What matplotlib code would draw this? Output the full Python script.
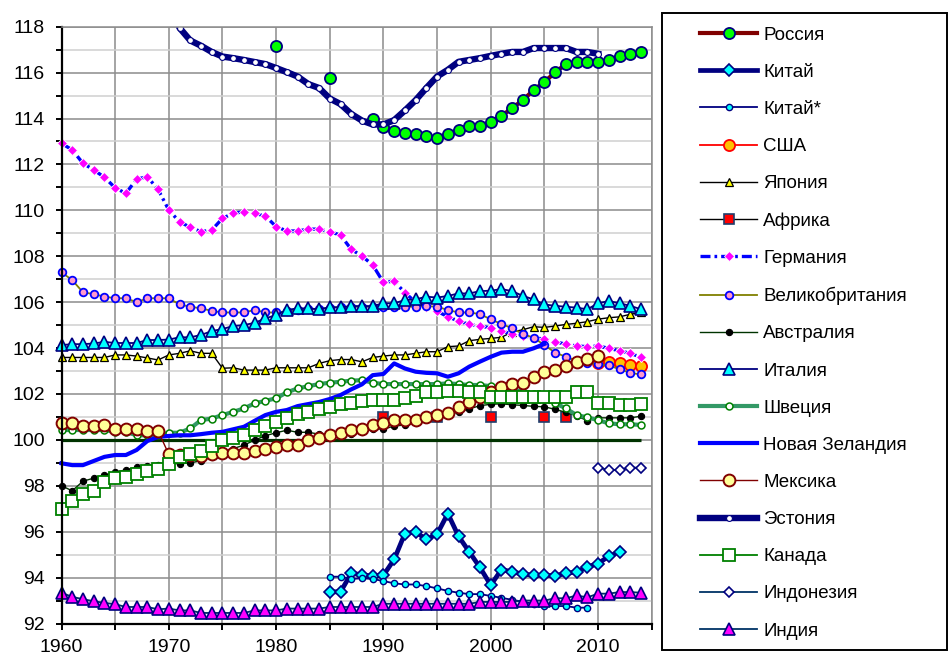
import matplotlib
matplotlib.use('Agg')
import matplotlib.pyplot as plt
import numpy as np
import pandas as pd
from matplotlib.patches import Rectangle
from matplotlib.ticker import MultipleLocator

plt.rcParams['font.family'] = ['Liberation Sans', 'DejaVu Sans']

# ---------------- data ----------------
russia_years = [1980, 1985] + list(range(1989, 2015))
russia = [117.16, 115.75,
          114.0, 113.64, 113.47, 113.38, 113.31, 113.24, 113.15, 113.31, 113.5, 113.67,
          113.67, 113.83, 114.11, 114.46, 114.8, 115.24, 115.59, 116.01, 116.37, 116.46,
          116.46, 116.46, 116.54, 116.72, 116.81, 116.9]

china_start = 1985
china = [93.38, 93.38, 94.18, 94.13, 94.06, 94.1, 94.79, 95.92, 95.99, 95.66,
         95.89, 96.79, 95.8, 95.12, 94.44, 93.67, 94.35, 94.25, 94.15, 94.1,
         94.1, 94.08, 94.18, 94.25, 94.47, 94.61, 94.93, 95.12]

china2_start = 1985
china2 = [94.04, 94.04, 93.94, 93.97, 93.94, 93.85, 93.75, 93.7, 93.7, 93.63,
          93.53, 93.42, 93.34, 93.28, 93.28, 93.2, 93.12, 93.03, 92.95, 92.85,
          92.76, 92.76, 92.76, 92.69, 92.69]

usa_start = 2010
usa = [103.35, 103.4, 103.33, 103.28, 103.2]

japan_start = 1960
japan = [103.59, 103.59, 103.59, 103.59, 103.59, 103.7, 103.7, 103.65, 103.57, 103.48,
         103.7, 103.77, 103.88, 103.77, 103.77, 103.12, 103.14, 103.04, 103.04, 103.04,
         103.14, 103.14, 103.14, 103.14, 103.33, 103.45, 103.5, 103.5, 103.4, 103.59,
         103.65, 103.7, 103.7, 103.77, 103.84, 103.84, 104.06, 104.09, 104.32, 104.38,
         104.42, 104.47, 104.7, 104.8, 104.93, 104.9, 104.96, 105.03, 105.08, 105.15,
         105.26, 105.32, 105.36, 105.47, 105.55]

africa_years = [1990, 1995, 2000, 2005, 2007]
africa = [101.0, 101.0, 101.0, 101.0, 101.0]

germany_start = 1960
germany = [112.92, 112.63, 112.05, 111.76, 111.44, 110.98, 110.74, 111.36, 111.46, 110.91,
           110.01, 109.5, 109.26, 109.07, 109.14, 109.65, 109.87, 109.94, 109.87, 109.75,
           109.29, 109.1, 109.1, 109.18, 109.18, 109.07, 108.92, 108.3, 108.01, 107.62,
           106.86, 106.92, 106.41, 106.0, 105.77, 105.61, 105.36, 105.18, 105.03, 104.96,
           104.88, 104.74, 104.61, 104.54, 104.45, 104.39, 104.27, 104.17, 104.09, 104.06,
           104.09, 103.99, 103.88, 103.77, 103.6]

uk_start = 1960
uk = [107.3, 106.96, 106.43, 106.35, 106.24, 106.17, 106.17, 106.0, 106.17, 106.17,
      106.17, 105.9, 105.8, 105.73, 105.62, 105.55, 105.55, 105.55, 105.66, 105.55,
      105.55, 105.6, 105.65, 105.7, 105.7, 105.75, 105.8, 105.8, 105.8, 105.8,
      105.8, 105.8, 105.8, 105.8, 105.83, 105.8, 105.66, 105.55, 105.55, 105.48,
      105.25, 105.05, 104.86, 104.61, 104.45, 104.13, 103.8, 103.62, 103.45, 103.33,
      103.3, 103.24, 103.08, 102.92, 102.85]

australia_start = 1960
australia = [98.0, 97.78, 98.2, 98.33, 98.47, 98.58, 98.7, 98.8, 98.85, 98.9,
             98.95, 98.97, 98.99, 99.1, 99.25, 99.45, 99.62, 99.77, 99.99, 100.18,
             100.31, 100.42, 100.33, 100.33, 100.25, 100.2, 100.2, 100.25, 100.35, 100.48,
             100.47, 100.6, 100.65, 100.75, 100.9, 100.98, 101.1, 101.2, 101.35, 101.49,
             101.55, 101.57, 101.53, 101.5, 101.46, 101.44, 101.33, 101.2, 101.04, 100.84,
             100.96, 100.96, 100.96, 100.96, 101.03]

italy_start = 1960
italy = [104.13, 104.17, 104.17, 104.2, 104.27, 104.22, 104.22, 104.22, 104.35, 104.35,
         104.37, 104.47, 104.47, 104.57, 104.74, 104.83, 104.96, 105.0, 105.1, 105.29,
         105.44, 105.66, 105.73, 105.73, 105.69, 105.78, 105.77, 105.83, 105.83, 105.83,
         105.95, 105.95, 106.09, 106.12, 106.24, 106.2, 106.27, 106.38, 106.38, 106.48,
         106.5, 106.57, 106.48, 106.27, 106.12, 105.9, 105.84, 105.8, 105.76, 105.69,
         105.95, 106.05, 105.95, 105.84, 105.69]

sweden_start = 1960
sweden = [100.43, 100.43, 100.43, 100.43, 100.43, 100.35, 100.35, 100.2, 100.2, 100.2,
          100.31, 100.31, 100.5, 100.86, 100.93, 101.08, 101.22, 101.37, 101.59, 101.7,
          101.81, 102.07, 102.24, 102.34, 102.43, 102.49, 102.53, 102.58, 102.6, 102.49,
          102.43, 102.43, 102.43, 102.43, 102.43, 102.43, 102.46, 102.43, 102.39, 102.39,
          102.34, 102.3, 102.2, 102.1, 102.0, 101.8, 101.6, 101.37, 101.08, 100.98,
          100.86, 100.72, 100.68, 100.68, 100.65]

nz_start = 1960
new_zealand = [98.98, 98.9, 98.9, 99.08, 99.26, 99.34, 99.34, 99.56, 99.95, 100.13,
               100.17, 100.2, 100.2, 100.25, 100.31, 100.35, 100.46, 100.57, 100.83, 101.08,
               101.22, 101.3, 101.47, 101.56, 101.65, 101.78, 101.95, 102.2, 102.42, 102.82,
               102.87, 103.33, 103.11, 102.97, 102.92, 102.9, 102.75, 102.9, 103.19, 103.41,
               103.62, 103.8, 103.84, 103.84, 103.99, 104.18]

mexico_start = 1960
mexico = [100.75, 100.75, 100.62, 100.62, 100.64, 100.48, 100.48, 100.48, 100.39, 100.39,
          99.37, 99.34, 99.32, 99.3, 99.37, 99.44, 99.44, 99.44, 99.51, 99.59,
          99.67, 99.77, 99.77, 99.99, 100.1, 100.2, 100.31, 100.45, 100.48, 100.64,
          100.75, 100.86, 100.86, 100.86, 100.98, 101.08, 101.18, 101.44, 101.66, 101.88,
          102.07, 102.29, 102.42, 102.49, 102.75, 102.94, 103.04, 103.21, 103.38, 103.52,
          103.65]

estonia_start = 1970
estonia = [119.0, 117.95, 117.4, 117.17, 116.9, 116.7, 116.63, 116.55, 116.46, 116.37,
           116.2, 116.02, 115.83, 115.5, 115.33, 114.87, 114.63, 114.2, 113.91, 113.74,
           113.74, 113.93, 114.35, 114.8, 115.33, 115.83, 116.12, 116.47, 116.55, 116.63,
           116.73, 116.82, 116.9, 116.9, 117.07, 117.07, 117.07, 117.07, 116.9, 116.9,
           116.82]

canada_start = 1960
canada = [96.98, 97.35, 97.64, 97.78, 98.15, 98.32, 98.39, 98.5, 98.65, 98.74,
          98.93, 99.24, 99.37, 99.51, 99.73, 99.99, 100.06, 100.23, 100.43, 100.61,
          100.79, 100.94, 101.11, 101.22, 101.34, 101.44, 101.56, 101.62, 101.7, 101.73,
          101.73, 101.73, 101.82, 101.9, 102.07, 102.07, 102.12, 102.12, 102.07, 102.07,
          101.88, 101.88, 101.88, 101.88, 101.88, 101.88, 101.88, 101.88, 102.07, 102.07,
          101.62, 101.62, 101.52, 101.52, 101.56]

indonesia_start = 2010
indonesia = [98.79, 98.69, 98.69, 98.79, 98.79]

india_start = 1960
india = [93.34, 93.16, 93.06, 92.97, 92.9, 92.84, 92.72, 92.72, 92.72, 92.62,
         92.65, 92.57, 92.57, 92.46, 92.46, 92.46, 92.46, 92.46, 92.57, 92.57,
         92.57, 92.65, 92.65, 92.65, 92.65, 92.72, 92.72, 92.72, 92.72, 92.72,
         92.86, 92.86, 92.86, 92.86, 92.86, 92.86, 92.86, 92.86, 92.86, 92.94,
         92.94, 92.94, 92.94, 93.0, 93.0, 93.0, 93.1, 93.1, 93.22, 93.14,
         93.3, 93.3, 93.37, 93.37, 93.34]

base_years = [1960, 2014]
base_level = [100.0, 100.0]

x_ticks = [1960, 1970, 1980, 1990, 2000, 2010]
y_ticks = list(range(92, 119, 2))


def regular(start, vals):
    return np.arange(start, start + len(vals)), np.array(vals, float)


def sparse(yrs, vals):
    s = pd.Series(vals, index=yrs, dtype=float).reindex(range(min(yrs), max(yrs) + 1))
    return s.index.values, s.values


# ---------------- figure ----------------
fig = plt.figure(figsize=(9.52, 6.56), dpi=100)
L, R, T, B = 61.5, 651.7, 26.7, 623.5
ax = fig.add_axes([L / 952, 1 - B / 656, (R - L) / 952, (B - T) / 656])

ax.plot(base_years, base_level, color='#003300', lw=2.3, zorder=1.5, solid_capstyle='butt')

specs = [
    ('Россия', sparse(russia_years, russia),
     dict(color='#800000', lw=3.0, marker='o', ms=8, mfc='#00FF00', mec='#000080', mew=1.3)),
    ('Китай', regular(china_start, china),
     dict(color='#000080', lw=3.4, marker='D', ms=6.5, mfc='#00FFFF', mec='#000080', mew=1.2)),
    ('Китай*', regular(china2_start, china2),
     dict(color='#000080', lw=1.3, marker='o', ms=4.5, mfc='#00FFFF', mec='#000080', mew=1.0)),
    ('США', regular(usa_start, usa),
     dict(color='#FF0000', lw=1.3, marker='o', ms=8, mfc='#FFC000', mec='#FF0000', mew=1.3)),
    ('Япония', regular(japan_start, japan),
     dict(color='#000000', lw=1.0, marker='^', ms=5.5, mfc='#FFFF00', mec='#000000', mew=0.9)),
    ('Африка', sparse(africa_years, africa),
     dict(color='#000000', lw=1.0, marker='s', ms=7, mfc='#FF0000', mec='#1F3D6B', mew=1.2)),
    ('Германия', regular(germany_start, germany),
     dict(color='#0000FF', lw=2.4, ls=(0, (3, 1.2, 0.8, 1.2)), marker='D', ms=5.5,
          mfc='#FF00FF', mec='white', mew=0.6)),
    ('Великобритания', regular(uk_start, uk),
     dict(color='#808000', lw=1.3, marker='o', ms=5.5, mfc='#FF99CC', mec='#0000FF', mew=1.3)),
    ('Австралия', regular(australia_start, australia),
     dict(color='#003300', lw=1.0, marker='o', ms=4.5, mfc='#000000', mec='#000000', mew=0.8)),
    ('Италия', regular(italy_start, italy),
     dict(color='#000080', lw=1.3, marker='^', ms=9, mfc='#00FFFF', mec='#000080', mew=1.2)),
    ('Швеция', regular(sweden_start, sweden),
     dict(color='#339966', lw=3.0, marker='o', ms=5, mfc='white', mec='#008000', mew=1.1)),
    ('Новая Зеландия', regular(nz_start, new_zealand),
     dict(color='#0000FF', lw=3.0)),
    ('Мексика', regular(mexico_start, mexico),
     dict(color='#800000', lw=1.0, marker='o', ms=8.5, mfc='#FFFF99', mec='#800000', mew=1.4)),
    ('Эстония', regular(estonia_start, estonia),
     dict(color='#000080', lw=4.6, marker='o', ms=4.2, mfc='white', mec='#000080', mew=0.8)),
    ('Канада', regular(canada_start, canada),
     dict(color='#008000', lw=1.3, marker='s', ms=8, mfc='white', mec='#008000', mew=1.3)),
    ('Индонезия', regular(indonesia_start, indonesia),
     dict(color='#003366', lw=1.3, marker='D', ms=5, mfc='white', mec='#000080', mew=1.2)),
    ('Индия', regular(india_start, india),
     dict(color='#003366', lw=1.3, marker='^', ms=8.5, mfc='#FF00FF', mec='#000080', mew=1.2)),
]

handles = []
for i, (label, (xs, ys), st) in enumerate(specs):
    clip = label == 'Эстония'
    ln, = ax.plot(xs, ys, label=label, zorder=2 + i * 0.01, clip_on=clip, **st)
    handles.append(ln)

ax.set_xlim(1960, 2015)
ax.set_ylim(92, 118)
ax.set_xticks(x_ticks)
ax.xaxis.set_minor_locator(MultipleLocator(5))
ax.set_yticks(y_ticks)
ax.yaxis.set_minor_locator(MultipleLocator(1))

ax.grid(which='major', axis='y', color='#8C8C8C', lw=1.1, zorder=0)
ax.grid(which='minor', axis='y', color='#CFCFCF', lw=1.1, zorder=0)
ax.grid(which='both', axis='x', color='#8C8C8C', lw=1.1, zorder=0)
ax.set_axisbelow(True)

for s in ('top', 'right'):
    ax.spines[s].set_color('#8C8C8C')
    ax.spines[s].set_linewidth(1.1)
for s in ('left', 'bottom'):
    ax.spines[s].set_color('black')
    ax.spines[s].set_linewidth(1.6)

ax.tick_params(which='both', direction='out', length=4, width=1.4, color='black')
ax.tick_params(axis='y', which='major', labelsize=14, pad=8)
ax.tick_params(axis='x', which='major', labelsize=14, pad=7)

# legend
fig.patches.append(Rectangle((662 / 952, 1 - 650 / 656), (947 - 662) / 952, (650 - 13) / 656,
                             transform=fig.transFigure, fill=False, ec='black', lw=1.4))
fig.legend(handles=handles, loc='upper left', bbox_to_anchor=(700 / 952, 1 - 26.5 / 656),
           frameon=False, borderpad=0, borderaxespad=0, handlelength=3.05,
           handletextpad=0.33, labelspacing=1.068, fontsize=13.5, numpoints=1)

fig.savefig('out.png', dpi=100)
